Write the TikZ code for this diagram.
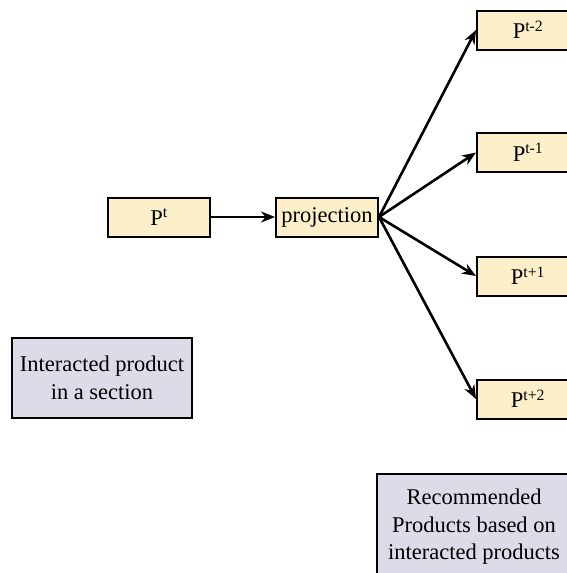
\documentclass[tikz,border=0pt]{standalone}
\usepackage{fontspec}
\setmainfont{Liberation Serif}
\usetikzlibrary{arrows.meta}
\definecolor{prodfill}{HTML}{FDEFC9}
\definecolor{notefill}{HTML}{DEDBE9}

\begin{document}
\begin{tikzpicture}
[every node/.style={inner sep=0pt, font=\fontsize{22.5pt}{27.5pt}\selectfont},
 prodbox/.style={rectangle, minimum width=102pt, minimum height=39pt, fill=prodfill, line width=2pt, draw=black},
 notebox/.style={rectangle, align=center, fill=notefill, line width=2pt, draw=black},
 flow/.style={line width=2.6pt, -{Stealth[length=14pt, width=11pt]}, color=black}]
\useasboundingbox (0pt, 0pt) rectangle (566pt, -573pt);
\node (pt) [prodbox] at (159pt, -217pt) {P\textsuperscript{t}};
\node (proj) [prodbox] at (327pt, -217pt) {projection};
\node (pm2) [prodbox] at (528pt, -30pt) {P\textsuperscript{t-2}};
\node (pm1) [prodbox] at (528pt, -152.5pt) {P\textsuperscript{t-1}};
\node (pp1) [prodbox] at (528pt, -276pt) {P\textsuperscript{t+1}};
\node (pp2) [prodbox] at (528pt, -399pt) {P\textsuperscript{t+2}};
\node (inter) [notebox, minimum width=180pt, minimum height=80pt] at (102pt, -378pt) {Interacted product\\in a section};
\node (recom) [notebox, minimum width=194pt, minimum height=106pt] at (474pt, -527pt) {Recommended\\Products based on\\interacted products};
\draw [flow] (pt) to (proj);
\draw [flow] (proj.east) to (pm2.west);
\draw [flow] (proj.east) to (pm1.west);
\draw [flow] (proj.east) to (pp1.west);
\draw [flow] (proj.east) to (pp2.west);
\end{tikzpicture}
\end{document}
